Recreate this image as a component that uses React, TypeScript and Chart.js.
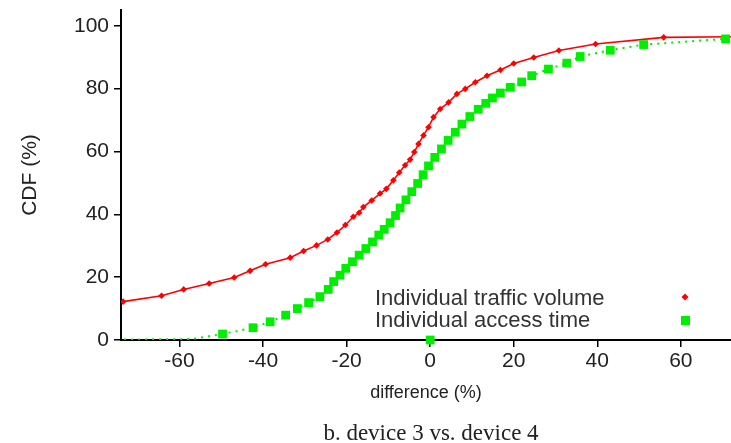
import React, { useEffect, useRef } from "react";
import { Chart, registerables } from "chart.js";

Chart.register(...registerables);

// Tick values
const xTickValues = [-60, -40, -20, 0, 20, 40, 60];
const yTickValues = [0, 20, 40, 60, 80, 100];

// Individual traffic volume (red)
const trafficX = [-73.5, -64.3, -59, -52.9, -46.9, -43.1, -39.4, -33.5, -30.3, -27.2, -24.5, -22.3, -20.3, -18.4, -17, -16, -14, -12, -10.5, -8.8, -7.4, -6, -4.8, -3.8, -2.8, -1.6, -0.4, 0.8, 2.4, 4.4, 6.4, 8.4, 10.8, 13.6, 16.8, 20, 24.8, 30.8, 39.6, 55.9, 80];
const trafficY = [12.2, 14.1, 16.1, 18, 19.9, 22, 24.1, 26.2, 28.3, 30.1, 32, 34.2, 36.6, 39.2, 40.5, 42.3, 44.4, 46.6, 48.1, 50.8, 53.3, 55.6, 57.4, 59.8, 62.4, 65.1, 67.7, 70.9, 73.5, 75.6, 78.3, 79.9, 82, 84.1, 85.9, 88, 89.9, 92.1, 94.2, 96.3, 96.6];

// Individual access time (green)
const accessX = [-90, -57, -49.7, -42.4, -38.3, -34.6, -31.8, -29.1, -26.4, -24.4, -23.1, -21.6, -20.2, -18.6, -17, -15.4, -13.8, -12.3, -11, -9.6, -8.3, -7.2, -5.8, -4.4, -3.0, -1.7, -0.4, 1.1, 2.7, 4.3, 6.0, 7.6, 9.5, 11.5, 13.3, 14.9, 16.8, 19.2, 21.9, 24.3, 28.3, 32.7, 35.9, 43.1, 51.1, 70.7, 85];
const accessY = [0, 0.3, 1.9, 3.9, 5.8, 7.9, 10, 11.9, 13.8, 16.1, 18.6, 20.6, 22.8, 24.9, 27.0, 29.1, 31.2, 33.4, 35.2, 37.3, 39.6, 42.0, 44.6, 47.2, 49.8, 52.6, 55.4, 58.1, 60.8, 63.5, 66.1, 68.7, 71.1, 73.4, 75.3, 77, 78.6, 80.4, 82.1, 84.1, 86.2, 88.1, 90.2, 92.2, 94.0, 95.8, 96.3];

// Stray access-time point on the axis
const strayX = [0];
const strayY = [0];

const legendLabels = ["Individual traffic volume", "Individual access time"];
const xTitle = "difference (%)";
const yTitle = "CDF (%)";
const caption = "b. device 3 vs. device 4";

const RED = "#ff0000";
const GREEN = "#00ee00";
const SANS = '"Liberation Sans", Arial, Helvetica, sans-serif';

const toPts = (xs: number[], ys: number[]) => xs.map((x, i) => ({ x, y: ys[i] }));

const zeroPad = (s: any) => {
  s.paddingLeft = 0;
  s.paddingRight = 0;
  s.paddingTop = 0;
  s.paddingBottom = 0;
};

export default function App() {
  const ref = useRef<HTMLCanvasElement | null>(null);

  useEffect(() => {
    document.body.style.margin = "0";
    const canvas = ref.current;
    if (!canvas) return;

    const overlay = {
      id: "overlay",
      afterDraw(chart: any) {
        const ctx = chart.ctx;
        ctx.save();
        // legend
        ctx.font = `22px ${SANS}`;
        ctx.fillStyle = "#333";
        ctx.textAlign = "left";
        ctx.textBaseline = "alphabetic";
        ctx.fillText(legendLabels[0], 375, 305);
        ctx.fillText(legendLabels[1], 375, 327);
        // red marker
        ctx.fillStyle = RED;
        ctx.beginPath();
        ctx.moveTo(685, 293.5);
        ctx.lineTo(688.5, 297);
        ctx.lineTo(685, 300.5);
        ctx.lineTo(681.5, 297);
        ctx.closePath();
        ctx.fill();
        // green marker
        ctx.fillStyle = GREEN;
        ctx.fillRect(681, 316, 9, 9);
        // caption
        ctx.font = `23px "Liberation Serif", "Times New Roman", serif`;
        ctx.fillStyle = "#222";
        ctx.textAlign = "center";
        ctx.fillText(caption, 431, 440);
        ctx.restore();
      },
    };

    const chart = new Chart(canvas, {
      type: "line",
      data: {
        datasets: [
          {
            label: legendLabels[0],
            data: toPts(trafficX, trafficY),
            borderColor: RED,
            backgroundColor: RED,
            borderWidth: 1.6,
            pointStyle: "rectRot",
            pointRadius: 3.3,
            pointBorderWidth: 0,
            tension: 0,
            order: 1,
          },
          {
            label: legendLabels[1],
            data: toPts(accessX, accessY),
            borderColor: GREEN,
            backgroundColor: GREEN,
            borderWidth: 2,
            borderDash: [2, 5],
            pointStyle: "rect",
            pointRadius: (c: any) => (c.dataIndex < 2 ? 0 : 6.2),
            pointBorderWidth: 0,
            tension: 0,
            order: 0,
          },
          {
            label: "stray",
            data: toPts(strayX, strayY),
            borderColor: GREEN,
            backgroundColor: GREEN,
            showLine: false,
            pointStyle: "rect",
            pointRadius: 6.2,
            pointBorderWidth: 0,
            clip: false as any,
            order: 0,
          },
        ],
      },
      options: {
        animation: false,
        responsive: false,
        devicePixelRatio: 1,
        layout: { autoPadding: false, padding: { left: 0, right: 0, top: 10, bottom: 0 } },
        plugins: {
          legend: { display: false },
          tooltip: { enabled: false },
          title: { display: false },
        },
        scales: {
          x: {
            type: "linear",
            min: -74,
            max: 72,
            afterBuildTicks: (s: any) => {
              s.ticks = xTickValues.map((v) => ({ value: v }));
            },
            afterFit: (s: any) => {
              s.height = 103;
              zeroPad(s);
            },
            ticks: {
              font: { family: SANS, size: 21 },
              color: "#222",
              padding: 2,
              maxRotation: 0,
              autoSkip: false,
              callback: (v: any) => String(v),
            },
            grid: {
              drawOnChartArea: false,
              drawTicks: true,
              tickLength: 7,
              color: "#000",
              lineWidth: 1.5,
            },
            border: { display: true, color: "#000", width: 2 },
            title: {
              display: true,
              text: xTitle,
              font: { family: SANS, size: 18 },
              color: "#222",
              padding: { top: 0, bottom: 39 },
            },
          },
          y: {
            type: "linear",
            min: 0,
            max: 105,
            afterBuildTicks: (s: any) => {
              s.ticks = yTickValues.map((v) => ({ value: v }));
            },
            afterFit: (s: any) => {
              s.width = 121;
              zeroPad(s);
            },
            ticks: {
              font: { family: SANS, size: 21 },
              color: "#222",
              padding: 5,
              callback: (v: any) => String(v),
            },
            grid: {
              drawOnChartArea: false,
              drawTicks: true,
              tickLength: 7,
              color: "#000",
              lineWidth: 1.5,
            },
            border: { display: true, color: "#000", width: 2 },
            title: {
              display: true,
              text: yTitle,
              font: { family: SANS, size: 21 },
              color: "#222",
              padding: { top: 18, bottom: 0 },
            },
          },
        },
      },
      plugins: [overlay],
    });

    return () => chart.destroy();
  }, []);

  return (
    <div style={{ width: 731, height: 443 }}>
      <canvas ref={ref} width={731} height={443} style={{ display: "block" }} />
    </div>
  );
}
